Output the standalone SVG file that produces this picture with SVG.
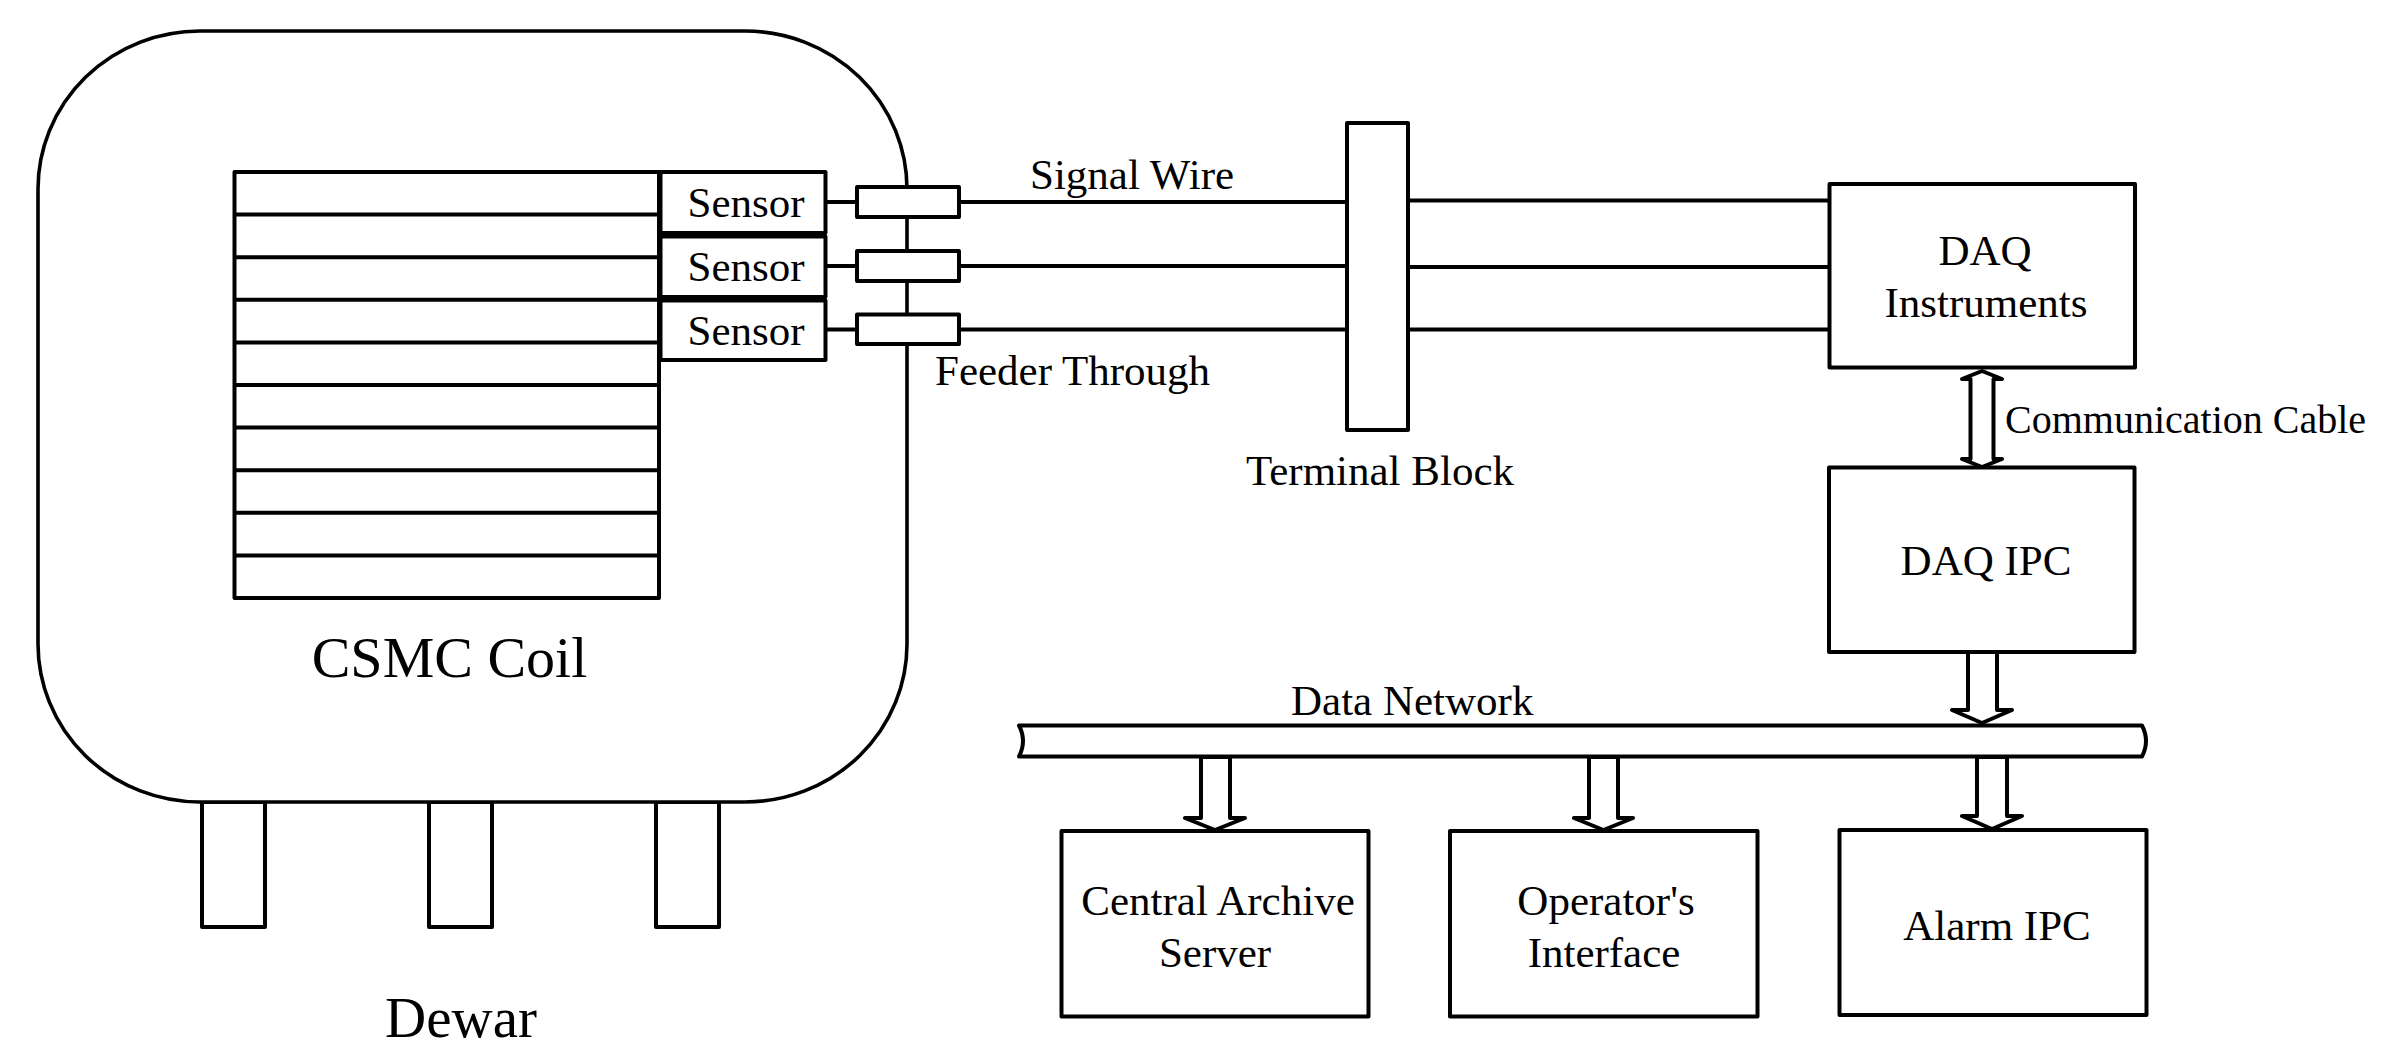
<svg xmlns="http://www.w3.org/2000/svg" width="2388" height="1051" viewBox="0 0 2388 1051">
<style>
.s{fill:#fff;stroke:#000;stroke-width:4;stroke-linejoin:round}
.l{fill:none;stroke:#000;stroke-width:4}
.t{font-family:"Liberation Serif","Times New Roman",serif;font-size:43px;fill:#000}
.big{font-size:58px}
.m{text-anchor:middle}
</style>
<rect width="2388" height="1051" fill="#fff"/>
<g id="dewar">
<rect class="s" x="202" y="802" width="63" height="125"/>
<rect class="s" x="429" y="802" width="63" height="125"/>
<rect class="s" x="656" y="802" width="63" height="125"/>
<rect class="s" x="38" y="31" width="869" height="771" rx="162" ry="158" style="stroke-width:3.6"/>
<text class="t big m" x="461" y="1037" style="font-size:57px">Dewar</text>
</g>
<g id="coil">
<rect class="s" x="234.5" y="172" width="424.5" height="426"/>
<path class="l" d="M234.5,214.6H659M234.5,257.2H659M234.5,299.8H659M234.5,342.4H659M234.5,385H659M234.5,427.6H659M234.5,470.2H659M234.5,512.8H659M234.5,555.4H659"/>
<text class="t big m" x="449.5" y="677">CSMC Coil</text>
</g>
<g id="sensor1"><rect class="s" x="660.5" y="172" width="165" height="61"/><text class="t m" x="746" y="217">Sensor</text></g>
<g id="sensor2"><rect class="s" x="660.5" y="236.5" width="165" height="60.5"/><text class="t m" x="746" y="281">Sensor</text></g>
<g id="sensor3"><rect class="s" x="660.5" y="300.5" width="165" height="59.5"/><text class="t m" x="746" y="345">Sensor</text></g>
<g id="connectors">
<path class="l" d="M825.5,202H857M825.5,266H857M825.5,329.5H857"/>
<path class="l" d="M959,202H1347M959,266H1347M959,329.5H1347"/>
<path class="l" d="M1408,200.5H1829.5M1408,267H1829.5M1408,329.5H1829.5"/>
<path class="s" d="M1982,371L2002,379L1993.5,379L1993.5,459L2002,459L1982,467L1962,459L1970.5,459L1970.5,379L1962,379Z"/>
<path class="s" d="M1968,652L1997,652L1997,710L2012,710L1982,723L1952,710L1968,710Z"/>
<path class="s" d="M1201,757L1230,757L1230,818L1245,818L1215,830L1185,818L1201,818Z"/>
<path class="s" d="M1589,757L1618,757L1618,818L1633,818L1603.5,830L1574,818L1589,818Z"/>
<path class="s" d="M1977,757L2007,757L2007,816L2022,816L1992,829L1962,816L1977,816Z"/>
</g>
<g id="feeders">
<rect class="s" x="857" y="187" width="102" height="30"/>
<rect class="s" x="857" y="251" width="102" height="30"/>
<rect class="s" x="857" y="314.5" width="102" height="29.5"/>
<text class="t" x="935" y="385">Feeder Through</text>
</g>
<text class="t" x="1030" y="189">Signal Wire</text>
<g id="terminal-block">
<rect class="s" x="1347" y="123" width="61" height="307"/>
<text class="t m" x="1380" y="485">Terminal Block</text>
</g>
<g id="daq-instruments">
<rect class="s" x="1829.5" y="184" width="305.5" height="183.5"/>
<text class="t m" x="1985" y="265">DAQ</text>
<text class="t m" x="1986" y="317">Instruments</text>
</g>
<text class="t" x="2005" y="433" style="font-size:40px">Communication Cable</text>
<g id="daq-ipc">
<rect class="s" x="1829" y="467.5" width="305.5" height="184.5"/>
<text class="t m" x="1986" y="575">DAQ IPC</text>
</g>
<g id="data-network">
<path class="s" d="M1019,725.5H2142Q2150,741 2142,756.5H1019Q1027,741 1019,725.5Z"/>
<text class="t" x="1291" y="715">Data Network</text>
</g>
<g id="archive">
<rect class="s" x="1061.5" y="831" width="307" height="185.5"/>
<text class="t m" x="1218" y="915">Central Archive</text>
<text class="t m" x="1215" y="967">Server</text>
</g>
<g id="operator">
<rect class="s" x="1450" y="831" width="307.5" height="185.5"/>
<text class="t m" x="1606" y="915">Operator's</text>
<text class="t m" x="1604" y="967">Interface</text>
</g>
<g id="alarm">
<rect class="s" x="1839.5" y="830" width="307" height="185"/>
<text class="t m" x="1997" y="940">Alarm IPC</text>
</g>
</svg>
